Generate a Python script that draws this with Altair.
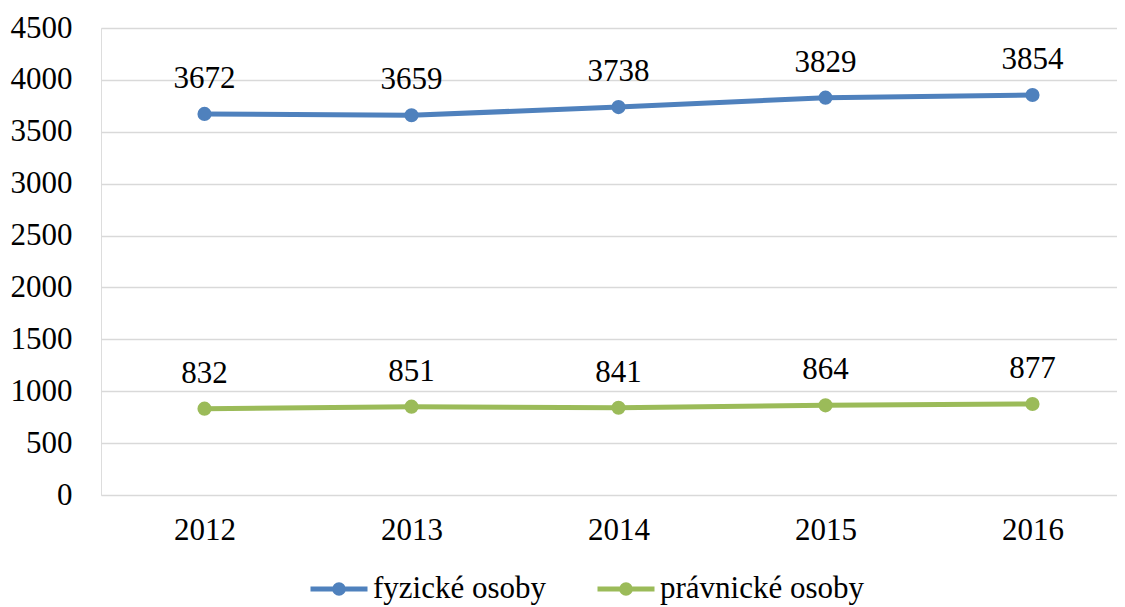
import altair as alt
import pandas as pd

years = ["2012", "2013", "2014", "2015", "2016"]
fyzicke = [3672, 3659, 3738, 3829, 3854]
pravnicke = [832, 851, 841, 864, 877]
series_names = ["fyzické osoby", "právnické osoby"]
colors = ["#4F81BD", "#9BBB59"]

rows = []
for y, v in zip(years, fyzicke):
    rows.append({"rok": y, "hodnota": v, "serie": series_names[0]})
for y, v in zip(years, pravnicke):
    rows.append({"rok": y, "hodnota": v, "serie": series_names[1]})
df = pd.DataFrame(rows)

FONT = "Liberation Serif"
FS = 31

x = alt.X("rok:O", title=None,
          scale=alt.Scale(type="point", padding=0.5, range=[0, 1035]),
          axis=alt.Axis(labelAngle=0, ticks=False, domain=False, labelPadding=20,
                        labelFont=FONT, labelFontSize=FS, labelColor="black"))
y = alt.Y("hodnota:Q", title=None,
          scale=alt.Scale(domain=[0, 4500], nice=False),
          axis=alt.Axis(values=list(range(0, 5000, 500)), format="d", ticks=False,
                        domain=False, labelPadding=29, labelFont=FONT,
                        labelFontSize=FS, labelColor="black",
                        gridColor="#d9d9d9", gridWidth=1.5))

legend_path = ("M-1,0L1,0M-0.15,0A0.15,0.15,0,1,1,0.15,0"
               "A0.15,0.15,0,1,1,-0.15,0Z")
color = alt.Color("serie:N", scale=alt.Scale(domain=series_names, range=colors),
                  legend=alt.Legend(title=None, orient="none", direction="horizontal",
                                    legendX=207, legendY=530,
                                    symbolType=legend_path, symbolSize=3249,
                                    symbolStrokeWidth=5, labelFont=FONT,
                                    labelFontSize=FS, labelColor="black",
                                    labelLimit=500,
                                    columnPadding=40, labelOffset=3,
                                    symbolOpacity=1))

base = alt.Chart(df).encode(x=x, y=y)
lines = base.mark_line(strokeWidth=5, strokeCap="round").encode(color=color)
points = base.mark_circle(size=200, opacity=1).encode(color=color)
labels = base.mark_text(font=FONT, fontSize=FS, baseline="bottom", dy=-19,
                        color="black").encode(text="hodnota:Q")

chart = alt.layer(lines, points, labels).properties(
    width=1016, height=467,
    autosize=alt.AutoSizeParams(type="none"),
    padding={"left": 93, "top": 20, "right": 0, "bottom": 112},
).configure_view(stroke=None).configure(font=FONT)

chart.save("out.html", embed_options={"renderer": "svg", "actions": False})
